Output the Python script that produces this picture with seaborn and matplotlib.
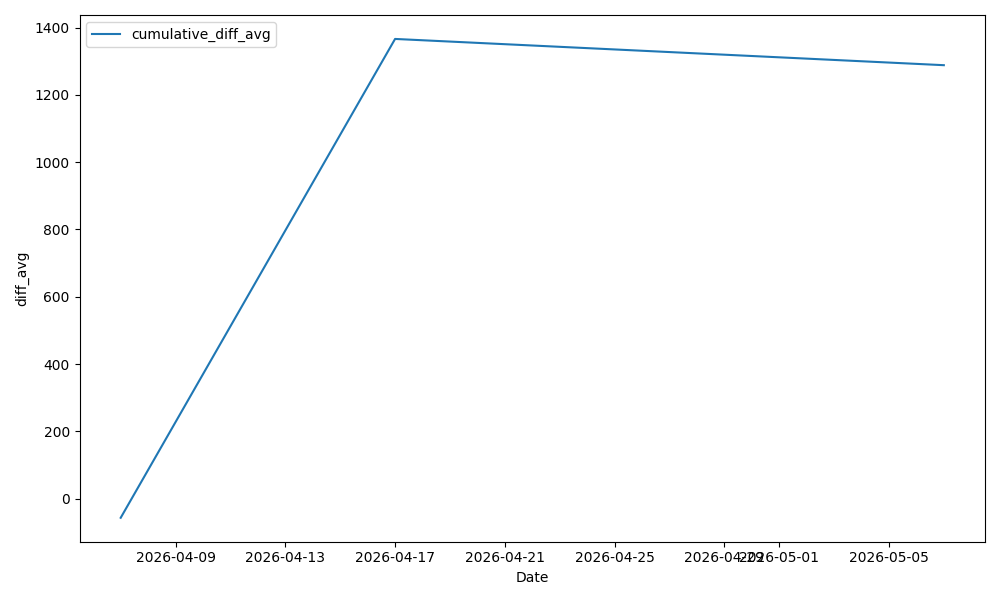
import pandas as pd
import matplotlib.pyplot as plt
import seaborn as sns

# Dados
dates = ["2026-04-07", "2026-04-17", "2026-05-07"]
diff_avg = [-57, 1366, 1288]

df = pd.DataFrame({"Date": pd.to_datetime(dates), "diff_avg": diff_avg})

fig, ax = plt.subplots(figsize=(10, 6), dpi=100)
sns.lineplot(data=df, x="Date", y="diff_avg", label="cumulative_diff_avg", ax=ax)
ax.legend(loc="upper left")

plt.tight_layout()
plt.savefig("out.png")
